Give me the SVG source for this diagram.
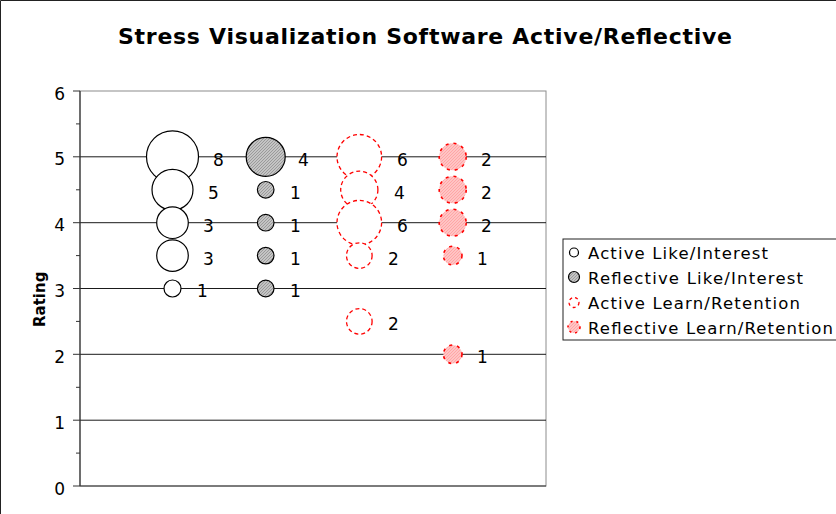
<svg xmlns="http://www.w3.org/2000/svg" width="836" height="514" viewBox="0 0 836 514">
  <defs>
    <pattern id="grayHatch" width="3" height="3" patternUnits="userSpaceOnUse">
      <rect width="3" height="3" fill="#c4c4c4"/>
      <path d="M0,3 L3,0" stroke="#888" stroke-width="0.7"/>
    </pattern>
    <pattern id="pinkHatch" width="3" height="3" patternUnits="userSpaceOnUse">
      <rect width="3" height="3" fill="#ffc4c4"/>
      <path d="M0,3 L3,0" stroke="#ff9a9a" stroke-width="0.7"/>
    </pattern>
    <style>
      .title { font-family: "DejaVu Sans", Verdana, sans-serif; font-weight: bold; font-size: 22px; fill: #000; }
      .axis { font-family: "DejaVu Sans", Verdana, sans-serif; font-size: 17px; fill: #000; }
      .lbl { font-family: "DejaVu Sans", Verdana, sans-serif; font-size: 17px; fill: #000; }
      .leg { font-family: "DejaVu Sans", Verdana, sans-serif; font-size: 16.5px; fill: #000; }
      .ytitle { font-family: "DejaVu Sans", Verdana, sans-serif; font-weight: bold; font-size: 15px; fill: #000; }
      .grid { stroke: #1a1a1a; stroke-width: 1; }
      .tick { stroke: #333; stroke-width: 1; }
      .aLike { fill: #fff; stroke: #000; stroke-width: 1.2; }
      .rLike { fill: url(#grayHatch); stroke: #000; stroke-width: 1.2; }
      .aLearn { fill: #fff; stroke: #ff0000; stroke-width: 1.3; stroke-dasharray: 4 3; }
      .rLearn { fill: url(#pinkHatch); stroke: #ff0000; stroke-width: 1.6; stroke-dasharray: 3 5; }
    </style>
  </defs>

  <rect x="0" y="0" width="836" height="514" fill="#fff"/>
  <path d="M0.5,520 L0.5,0.5 L840,0.5" fill="none" stroke="#222" stroke-width="1"/>

  <text class="title" x="118" y="43.5" textLength="614" lengthAdjust="spacing">Stress Visualization Software Active/Reflective</text>

  <g id="plot-area">
    <rect x="80" y="91" width="466" height="395" fill="#fff" stroke="#8c8c8c" stroke-width="1"/>
    <g id="gridlines">
      <line class="grid" x1="80" y1="156.8" x2="546" y2="156.8"/>
      <line class="grid" x1="80" y1="222.7" x2="546" y2="222.7"/>
      <line class="grid" x1="80" y1="288.5" x2="546" y2="288.5"/>
      <line class="grid" x1="80" y1="354.3" x2="546" y2="354.3"/>
      <line class="grid" x1="80" y1="420.2" x2="546" y2="420.2"/>
    </g>
    <line x1="80" y1="486" x2="546" y2="486" stroke="#333" stroke-width="1.2"/>
    <line x1="80" y1="91" x2="80" y2="486" stroke="#333" stroke-width="1.2"/>
    <g id="ticks">
      <line class="tick" x1="73" y1="91" x2="80" y2="91"/>
      <line class="tick" x1="76" y1="123.9" x2="80" y2="123.9"/>
      <line class="tick" x1="73" y1="156.8" x2="80" y2="156.8"/>
      <line class="tick" x1="76" y1="189.8" x2="80" y2="189.8"/>
      <line class="tick" x1="73" y1="222.7" x2="80" y2="222.7"/>
      <line class="tick" x1="76" y1="255.6" x2="80" y2="255.6"/>
      <line class="tick" x1="73" y1="288.5" x2="80" y2="288.5"/>
      <line class="tick" x1="76" y1="321.4" x2="80" y2="321.4"/>
      <line class="tick" x1="73" y1="354.3" x2="80" y2="354.3"/>
      <line class="tick" x1="76" y1="387.3" x2="80" y2="387.3"/>
      <line class="tick" x1="73" y1="420.2" x2="80" y2="420.2"/>
      <line class="tick" x1="76" y1="453.1" x2="80" y2="453.1"/>
      <line class="tick" x1="73" y1="486" x2="80" y2="486"/>
    </g>
    <g id="y-labels" text-anchor="end">
      <text class="axis" x="65" y="99.5">6</text>
      <text class="axis" x="65" y="165.3">5</text>
      <text class="axis" x="65" y="231.2">4</text>
      <text class="axis" x="65" y="297">3</text>
      <text class="axis" x="65" y="362.8">2</text>
      <text class="axis" x="65" y="428.7">1</text>
      <text class="axis" x="65" y="494.5">0</text>
    </g>
    <text class="ytitle" transform="translate(45,327) rotate(-90)">Rating</text>
  </g>

  <g id="series-active-like">
    <circle class="aLike" cx="172.5" cy="156.8" r="26"/>
    <circle class="aLike" cx="172.5" cy="189.8" r="20.5"/>
    <circle class="aLike" cx="172.5" cy="222.7" r="15.8"/>
    <circle class="aLike" cx="172.5" cy="255.6" r="15.8"/>
    <circle class="aLike" cx="172.5" cy="288.5" r="8.5"/>
    <text class="lbl" x="213" y="165.5">8</text>
    <text class="lbl" x="208" y="198.5">5</text>
    <text class="lbl" x="203" y="231.5">3</text>
    <text class="lbl" x="203" y="264.5">3</text>
    <text class="lbl" x="197" y="297">1</text>
  </g>

  <g id="series-reflective-like">
    <circle class="rLike" cx="265.7" cy="156.8" r="19.5"/>
    <circle class="rLike" cx="265.7" cy="189.8" r="8.3"/>
    <circle class="rLike" cx="265.7" cy="222.7" r="8.3"/>
    <circle class="rLike" cx="265.7" cy="255.6" r="8.3"/>
    <circle class="rLike" cx="265.7" cy="288.5" r="8.3"/>
    <text class="lbl" x="298" y="165.5">4</text>
    <text class="lbl" x="290" y="198.5">1</text>
    <text class="lbl" x="290" y="231.5">1</text>
    <text class="lbl" x="290" y="264.5">1</text>
    <text class="lbl" x="290" y="297">1</text>
  </g>

  <g id="series-active-learn">
    <circle class="aLearn" cx="359.3" cy="156.8" r="22.3"/>
    <circle class="aLearn" cx="359.3" cy="189.8" r="18.6"/>
    <circle class="aLearn" cx="359.3" cy="222.7" r="22.3"/>
    <circle class="aLearn" cx="359.3" cy="255.6" r="12.8"/>
    <circle class="aLearn" cx="359.3" cy="321.4" r="12.8"/>
    <text class="lbl" x="397" y="165.5">6</text>
    <text class="lbl" x="394" y="198.5">4</text>
    <text class="lbl" x="397" y="231.5">6</text>
    <text class="lbl" x="388" y="264.5">2</text>
    <text class="lbl" x="388" y="330">2</text>
  </g>

  <g id="series-reflective-learn">
    <circle class="rLearn" cx="452.7" cy="156.8" r="13.5"/>
    <circle class="rLearn" cx="452.7" cy="189.8" r="13.5"/>
    <circle class="rLearn" cx="452.7" cy="222.7" r="13.5"/>
    <circle class="rLearn" cx="452.7" cy="255.6" r="9.3"/>
    <circle class="rLearn" cx="452.7" cy="354.3" r="9.3"/>
    <text class="lbl" x="481" y="165.5">2</text>
    <text class="lbl" x="481" y="198.5">2</text>
    <text class="lbl" x="481" y="231.5">2</text>
    <text class="lbl" x="477" y="264.5">1</text>
    <text class="lbl" x="477" y="363">1</text>
  </g>

  <g id="legend">
    <rect x="563" y="239" width="290" height="101" fill="#fff" stroke="#222" stroke-width="1"/>
    <circle cx="574" cy="252.5" r="4.5" fill="#fff" stroke="#000" stroke-width="1.2"/>
    <circle cx="574" cy="277" r="5.5" fill="url(#grayHatch)" stroke="#000" stroke-width="1.2"/>
    <circle cx="574" cy="302.5" r="5" fill="#fff" stroke="#ff0000" stroke-width="1.3" stroke-dasharray="3 3"/>
    <circle cx="574" cy="327" r="6" fill="url(#pinkHatch)" stroke="#ff0000" stroke-width="1.6" stroke-dasharray="2 4"/>
    <text class="leg" x="588" y="258.5" textLength="180" lengthAdjust="spacing">Active Like/Interest</text>
    <text class="leg" x="588" y="283.5" textLength="215" lengthAdjust="spacing">Reflective Like/Interest</text>
    <text class="leg" x="588" y="308.5" textLength="212" lengthAdjust="spacing">Active Learn/Retention</text>
    <text class="leg" x="588" y="333.5" textLength="245" lengthAdjust="spacing">Reflective Learn/Retention</text>
  </g>
</svg>
